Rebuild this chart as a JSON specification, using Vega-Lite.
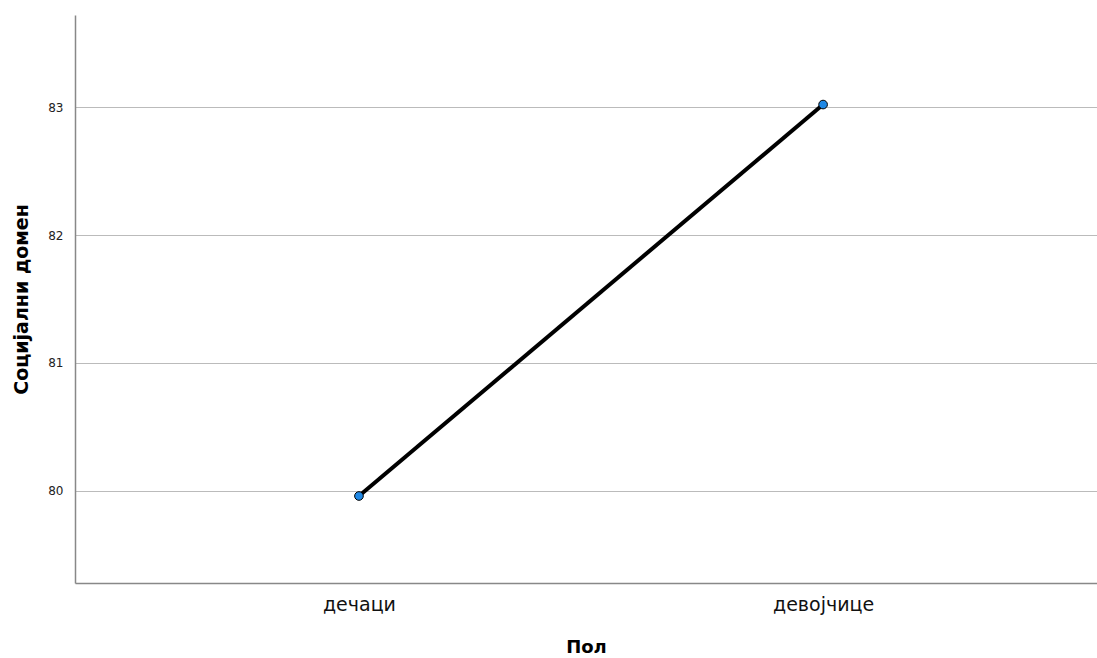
{
  "$schema": "https://vega.github.io/schema/vega-lite/v6.json",
  "autosize": {"type": "none"},
  "padding": {"left": 75, "top": 15, "right": 0, "bottom": 75},
  "width": 1022,
  "height": 568,
  "background": "white",
  "config": {"view": {"stroke": null}, "font": "DejaVu Sans"},
  "data": {"values": [
    {"pol": "дечаци", "value": 79.96},
    {"pol": "девојчице", "value": 83.02}
  ]},
  "encoding": {
    "x": {"field": "pol", "type": "nominal", "sort": null,
      "scale": {"type": "point", "padding": 0.601, "align": 0.509},
      "axis": {"title": "Пол", "labelAngle": 0, "ticks": false, "labelFontSize": 19, "labelFontWeight": 500, "labelColor": "#111", "labelPadding": 12,
        "titleFontSize": 18, "titleFontWeight": "bold", "titleColor": "#000", "titlePadding": 24,
        "domainColor": "#888", "domainWidth": 1.5, "grid": false}},
    "y": {"field": "value", "type": "quantitative",
      "scale": {"domain": [79.28, 83.72], "nice": false, "zero": false},
      "axis": {"title": "Социјални домен", "values": [80, 81, 82, 83], "ticks": false, "labelFontSize": 12, "labelColor": "#222", "labelPadding": 12,
        "titleFontSize": 19, "titleFontWeight": "bold", "titleColor": "#000", "titlePadding": 16,
        "domainColor": "#888", "domainWidth": 1.5, "grid": true, "gridColor": "#bbb", "gridWidth": 1}}
  },
  "layer": [
    {"mark": {"type": "line", "color": "#000", "strokeWidth": 4}},
    {"mark": {"type": "point", "filled": true, "fill": "#1f88e5", "stroke": "#000", "strokeWidth": 1, "size": 75, "opacity": 1}}
  ]
}
